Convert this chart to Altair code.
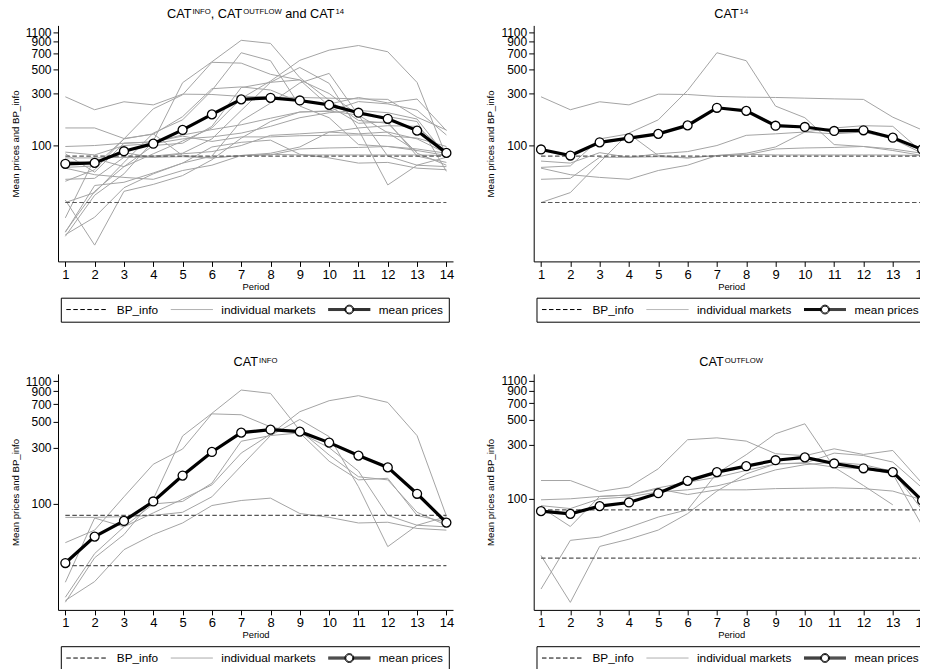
import altair as alt
import pandas as pd

# ---------------- data ----------------
periods = list(range(1, 15))
bp_info = [80, 30]

# CAT^14 markets
c14_m1 = [280, 213, 252, 236, 296, 294, 282, 278, 276, 272, 268, 265, 182, 139]
c14_m2 = [30, 37, 70, 130, 172, 320, 710, 600, 230, 180, 102, 98, 90, 81]
c14_m3 = [72, 69, 86, 78, 84, 88, 100, 124, 128, 133, 145, 152, 150, 87]
c14_m4 = [63, 65, 115, 128, 81, 77, 81, 85, 97, 133, 128, 133, 115, 85]
c14_m5 = [62, 54, 51, 49, 59, 66, 81, 82, 93, 95, 96, 98, 93, 85]
c14_m6 = [49, 50, 78, 78, 79, 77, 81, 83, 82, 82, 82, 82, 82, 81]
c14_mean = [92, 81, 107, 117, 128, 153, 222, 208, 152, 148, 136, 138, 118, 92]

# CAT^INFO markets
ci_m1 = [14.7, 35, 55, 110, 377, 586, 923, 865, 420, 260, 170, 160, 85, 66]
ci_m2 = [16.2, 38, 64, 84, 110, 145, 270, 390, 605, 750, 827, 725, 379, 79]
ci_m3 = [47, 60, 115, 217, 292, 580, 570, 450, 400, 230, 160, 165, 80, 70]
ci_m4 = [21.7, 76, 64, 100, 105, 150, 340, 380, 520, 372, 140, 43.5, 66, 64]
ci_m5 = [15.2, 22, 41, 55, 69, 97, 107, 112, 83, 77, 69, 70, 62, 60]
ci_m6 = [77, 77, 78, 80, 85, 115, 210, 380, 400, 300, 190, 80, 66, 78]
ci_mean = [31.6, 52.9, 71.8, 105, 174, 276, 402, 426, 410, 331, 257, 204, 122, 69.5]

# CAT^OUTFLOW markets
co_m1 = [145, 145, 116, 127, 184, 332, 345, 323, 250, 240, 276, 246, 267, 137]
co_m2 = [98, 100, 105, 108, 122, 109, 120, 120, 123, 124, 125, 123, 117, 98]
co_m3 = [87, 82, 100, 104, 115, 120, 130, 150, 180, 200, 210, 200, 175, 80]
co_m4 = [16, 43, 46, 56, 69, 80, 168, 245, 375, 459, 190, 131, 88.5, None]
co_m5 = [31.6, 12.2, 38, 44, 53, 74, 117, 166, 203, 206, 253, 241, 211, 125]
co_m6 = [84, 57, 105, 108, 125, 140, 155, 178, 203, 208, 190, 184, 166, 58]
co_mean = [77.8, 73.7, 86.2, 92.8, 112, 144, 172, 194, 219, 232, 205, 186, 172, 96.7]

# all three treatments together
all_mean = [68, 69.3, 88.7, 104, 139, 193, 265, 274, 259, 236, 200, 176, 137, 85.6]

y_ticks = [100, 300, 500, 700, 900, 1100]
series_names = ["BP_info", "individual markets", "mean prices"]

# ---------------- styling ----------------
FONT = "Liberation Sans"
GRAY = "#a4a4a4"
BPCOL = "#555555"
PW, PH = 395, 236
XDOM = [0.75, 14.225]
YTOP = 1265
TITLE_FS, SUP_FS = 12.7, 7.7
TITLE_Y, SUP_Y = -7.6, -11.2
DASH = [4.5, 2.5]

ARIAL = {'C': 722, 'A': 667, 'T': 611, 'I': 278, 'N': 722, 'F': 611, 'O': 778,
         'U': 722, 'L': 556, 'W': 944, ',': 278, ' ': 278, 'a': 556, 'n': 556,
         'd': 556, '1': 556, '4': 556}


def tw(s, fs):
    return sum(ARIAL.get(c, 556) for c in s) * fs / 1000.0


# legend symbols: nominal symbol 12px (unit = 6px); paths run from -1 to 6 units (42px)
SYM = 144
LINE_PATH = "M-1,0H6"
MEAN_PATH = ("M-1,-0.1667H1.92M-1,0H1.92M-1,0.1667H1.92"
             "M3.08,-0.1667H6M3.08,0H6M3.08,0.1667H6"
             "M3.08,0A0.58,0.58 0 1,1 1.92,0A0.58,0.58 0 1,1 3.08,0"
             "M3.23,0A0.73,0.73 0 1,1 1.77,0A0.73,0.73 0 1,1 3.23,0")


def make_legend():
    return alt.Legend(
        title=None, orient="none", legendX=2.8, legendY=272.3,
        direction="horizontal", strokeColor="black", fillColor="white",
        padding=5, cornerRadius=0,
        labelFont=FONT, labelFontSize=11.8, labelColor="black", labelOffset=38,
        columnPadding=9.5, symbolSize=SYM, symbolStrokeWidth=1,
        symbolOpacity=1, labelOverlap=False,
    )


def long_markets(markets):
    rows = []
    for i, m in enumerate(markets):
        for p, v in zip(periods, m):
            if v is not None:
                rows.append({"period": p, "value": v, "market": "m%d" % i})
    return pd.DataFrame(rows)


def panel(title_parts, markets, mean_vals, ylo):
    x = alt.X("period:Q",
              scale=alt.Scale(domain=XDOM, nice=False, zero=False),
              axis=alt.Axis(values=periods, title="Period", format="d",
                            labelFontSize=13, titleFontSize=9.4,
                            titlePadding=1, labelPadding=2, tickSize=5,
                            labelOverlap=False))
    y = alt.Y("value:Q",
              scale=alt.Scale(type="log", domain=[ylo, YTOP], nice=False),
              axis=alt.Axis(values=y_ticks, format="d",
                            title="Mean prices and BP_info",
                            labelFontSize=12, titleFontSize=9.6,
                            titlePadding=5, labelPadding=2, tickSize=5,
                            labelOverlap=False))

    ind = alt.Chart(long_markets(markets)).mark_line(
        strokeWidth=1, color=GRAY).encode(x=x, y=y, detail="market:N")

    bp_rows = []
    for k, lvl in enumerate(bp_info):
        for p in (periods[0], periods[-1]):
            bp_rows.append({"period": p, "value": lvl, "level": k})
    bp = alt.Chart(pd.DataFrame(bp_rows)).mark_line(
        strokeWidth=1.2, strokeDash=DASH, color=BPCOL).encode(
        x=x, y=y, detail="level:N")

    mdf = pd.DataFrame({"period": periods, "value": mean_vals})
    mline = alt.Chart(mdf).mark_line(strokeWidth=3.2, color="black").encode(x=x, y=y)
    mpts = alt.Chart(mdf).mark_point(shape="circle", filled=True, fill="white",
                                     stroke="black", strokeWidth=1.3, size=80,
                                     opacity=1).encode(x=x, y=y)

    # legend-only layer (invisible marks), one entry per series
    lg = make_legend()
    leg = alt.Chart(pd.DataFrame({"series": series_names})).mark_point(
        filled=False, opacity=0, strokeWidth=1, size=4).encode(
        x=alt.value(PW / 2), y=alt.value(PH / 2),
        color=alt.Color("series:N", legend=lg,
                        scale=alt.Scale(domain=series_names, range=["black", GRAY, "black"])),
        shape=alt.Shape("series:N", legend=lg,
                        scale=alt.Scale(domain=series_names,
                                        range=[LINE_PATH, LINE_PATH, MEAN_PATH])),
        strokeDash=alt.StrokeDash("series:N", legend=lg,
                                  scale=alt.Scale(domain=series_names, range=[DASH, [1, 0], [1, 0]])),
    )

    # title with superscripts, built from text pieces (leading spaces as offsets)
    cx = 0.0
    pieces = []
    for t, sup in title_parts:
        fs = SUP_FS if sup else TITLE_FS
        stripped = t.lstrip(" ")
        lead = tw(t[:len(t) - len(stripped)], fs)
        pieces.append((stripped, fs, sup, cx + lead))
        cx += tw(t, fs)
    x0 = PW / 2.0 - cx / 2.0
    texts = []
    for t, fs, sup, off in pieces:
        texts.append(
            alt.Chart(pd.DataFrame({"t": [t]})).mark_text(
                align="left", baseline="alphabetic", font=FONT, fontSize=fs,
                color="black").encode(
                text="t:N", x=alt.value(x0 + off), y=alt.value(SUP_Y if sup else TITLE_Y)))

    return alt.layer(ind, bp, mline, mpts, leg, *texts).properties(width=PW, height=PH)


p1 = panel([("CAT", False), ("INFO", True), (", CAT", False), ("OUTFLOW", True),
            (" and CAT", False), ("14", True)],
           [c14_m1, c14_m2, c14_m3, c14_m4, c14_m5, c14_m6,
            ci_m1, ci_m2, ci_m3, ci_m4, ci_m5, ci_m6,
            co_m1, co_m2, co_m3, co_m4, co_m5, co_m6], all_mean, 8.65)
p2 = panel([("CAT", False), ("14", True)],
           [c14_m1, c14_m2, c14_m3, c14_m4, c14_m5, c14_m6], c14_mean, 8.65)
p3 = panel([("CAT", False), ("INFO", True)],
           [ci_m1, ci_m2, ci_m3, ci_m4, ci_m5, ci_m6], ci_mean, 12.66)
p4 = panel([("CAT", False), ("OUTFLOW", True)],
           [co_m1, co_m2, co_m3, co_m4, co_m5, co_m6], co_mean, 10.47)

CH = ["color", "shape", "strokeDash"]


def indep(c):
    return c.resolve_scale(**{k: "independent" for k in CH}).resolve_legend(
        **{k: "independent" for k in CH})


row1 = indep(alt.hconcat(p1, p2, spacing=31.7))
row2 = indep(alt.hconcat(p3, p4, spacing=31.7))

chart = indep(alt.vconcat(row1, row2, spacing=33.5)).properties(
    padding={"left": 2, "top": -0.6, "right": -10, "bottom": 0},
    background="white",
).configure_view(stroke=None).configure_axis(
    grid=False, domainColor="black", tickColor="black", labelColor="black",
    titleColor="black", labelFont=FONT, titleFont=FONT, titleFontWeight="normal",
    domainWidth=1, tickWidth=1,
)

chart.save("out.html", embed_options={"renderer": "svg", "actions": False})
